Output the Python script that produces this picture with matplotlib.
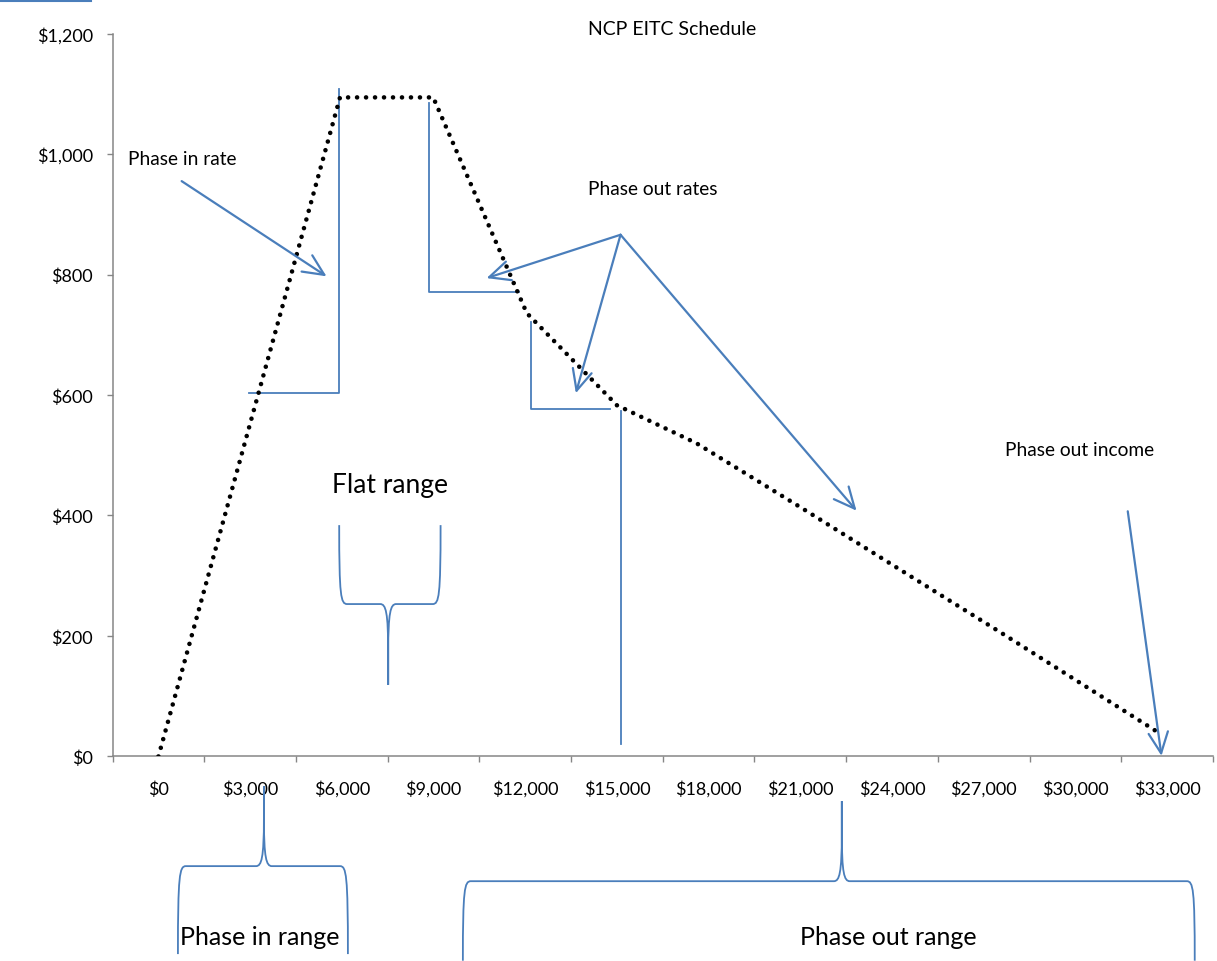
import matplotlib
matplotlib.use("Agg")
import matplotlib.pyplot as plt
import matplotlib.ticker as mticker
from matplotlib.lines import Line2D
from matplotlib.path import Path
from matplotlib.patches import PathPatch

plt.rcParams["font.family"] = ["Lato", "DejaVu Sans"]

# credit schedule (earned income -> credit)
income = [0, 5940, 8990, 12050, 15000, 17600, 21090, 24580, 27580, 32830]
credit = [0, 1094, 1094, 736, 583, 520, 411, 300, 205, 36]

x_labels = [0, 3000, 6000, 9000, 12000, 15000, 18000, 21000, 24000, 27000, 30000, 33000]
y_ticks = [0, 200, 400, 600, 800, 1000, 1200]

BLUE = "#4a7ebb"
GRAY = "#868686"

fig = plt.figure(figsize=(12.17, 9.62), dpi=100)
ax = fig.add_axes([0.0925, 0.2126, 0.9042, 0.7515])

ax.plot(income, credit, color="black", lw=3.3, linestyle=(0, (0.01, 1.95)),
        dash_capstyle="round", solid_capstyle="round", zorder=3)

ax.set_xlim(-1500, 34500)
ax.set_ylim(0, 1200)

for side in ("top", "right"):
    ax.spines[side].set_visible(False)
for side in ("left", "bottom"):
    ax.spines[side].set_color(GRAY)
    ax.spines[side].set_linewidth(1.1)

ax.yaxis.set_major_locator(mticker.FixedLocator(y_ticks))
ax.yaxis.set_major_formatter(mticker.FuncFormatter(lambda v, p: f"${v:,.0f}"))
ax.tick_params(axis="y", direction="out", length=4, width=1, color=GRAY, pad=10, labelsize=13)

# labels sit between the tick marks, like a category axis
ax.xaxis.set_major_locator(mticker.FixedLocator(x_labels))
ax.xaxis.set_major_formatter(mticker.FuncFormatter(lambda v, p: f"${v:,.0f}"))
ax.xaxis.set_minor_locator(mticker.FixedLocator([v - 1500 for v in x_labels] + [34500]))
ax.tick_params(axis="x", which="major", length=0, pad=17, labelsize=13)
ax.tick_params(axis="x", which="minor", direction="out", length=4.5, width=1, color=GRAY)

ax.text(16800, 1209, "NCP EITC Schedule", ha="center", va="center", fontsize=14)


def seg(xs, ys, lw=1.3):
    ax.add_line(Line2D(xs, ys, color=BLUE, lw=lw, clip_on=False, zorder=2))


def arrow(x0, y0, x1, y1):
    ax.annotate("", xy=(x1, y1), xytext=(x0, y0), annotation_clip=False,
                arrowprops=dict(arrowstyle="->,head_length=0.75,head_width=0.35",
                                color=BLUE, lw=1.6, mutation_scale=20,
                                shrinkA=0, shrinkB=0))


def brace(x0, x1, xm, y_end, y_mid, y_tip, r=260):
    # curly brace: arms at x0 and x1, spike at xm
    dy = y_mid - y_end
    dt = y_tip - y_mid
    verts = [
        (x0, y_end), (x0, y_end + 0.9 * dy), (x0 + 0.2 * r, y_mid), (x0 + r, y_mid),
        (xm - r, y_mid),
        (xm - 0.3 * r, y_mid), (xm, y_mid + 0.1 * dt), (xm, y_mid + 0.6 * dt),
        (xm, y_tip),
        (xm, y_mid + 0.6 * dt),
        (xm, y_mid + 0.1 * dt), (xm + 0.3 * r, y_mid), (xm + r, y_mid),
        (x1 - r, y_mid),
        (x1 - 0.2 * r, y_mid), (x1, y_end + 0.9 * dy), (x1, y_end),
    ]
    codes = [Path.MOVETO, Path.CURVE4, Path.CURVE4, Path.CURVE4,
             Path.LINETO,
             Path.CURVE4, Path.CURVE4, Path.CURVE4,
             Path.LINETO,
             Path.LINETO,
             Path.CURVE4, Path.CURVE4, Path.CURVE4,
             Path.LINETO,
             Path.CURVE4, Path.CURVE4, Path.CURVE4]
    ax.add_patch(PathPatch(Path(verts, codes), fill=False, edgecolor=BLUE,
                           lw=1.3, clip_on=False, zorder=2))


# phase-in rate
ax.text(-1000, 992, "Phase in rate", ha="left", va="center", fontsize=13.8)
arrow(760, 955, 5500, 797)
seg([2970, 5914, 5914], [603, 603, 1108])

# phase-out rates
seg([8858, 8858, 11800], [1085, 771, 771])
seg([12175, 12175, 14770], [721, 576, 576])
seg([15118, 15118], [574, 21])
ax.text(16175, 942, "Phase out rates", ha="center", va="center", fontsize=13.8)
arrow(15118, 866, 10735, 794)
arrow(15118, 866, 13656, 603)
arrow(15118, 866, 22838, 408)

# end of phase-out
ax.text(30140, 509, "Phase out income", ha="center", va="center", fontsize=13.8)
arrow(31712, 407, 32815, 1)

# ranges
ax.text(7570, 451, "Flat range", ha="center", va="center", fontsize=19)
brace(5914, 9231, 7517, 384, 253, 119)

brace(638, 6199, 3451, -328, -182, -49)
ax.text(3320, -298, "Phase in range", ha="center", va="center", fontsize=18)

brace(9960, 33903, 22357, -339, -207, -74)
ax.text(23890, -298, "Phase out range", ha="center", va="center", fontsize=18)

fig.add_artist(Line2D([0.0, 0.075], [0.998, 0.998], color=BLUE, lw=1.5,
                      transform=fig.transFigure))

fig.savefig("out.png", dpi=100)
